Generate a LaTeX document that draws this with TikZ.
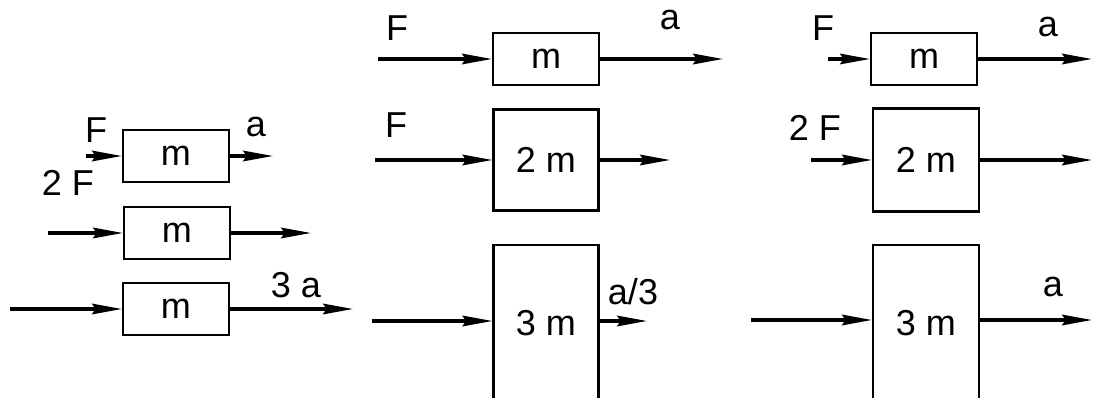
\documentclass[tikz,border=0pt]{standalone}
\usepackage{fontspec}
\setmainfont{Liberation Sans}
\usetikzlibrary{arrows.meta}
\tikzset{
  mass/.style={draw,line width=1.2pt,inner sep=0pt,
    font=\fontsize{20.5}{24}\selectfont},
  force/.style={line width=1.8pt,-{Stealth[length=17pt,width=6pt,inset=2pt]}},
  sym/.style={inner sep=0pt,font=\fontsize{20.5}{24}\selectfont},
}

\begin{document}
\begin{tikzpicture}[x=0.02cm,y=-0.02cm]
\clip (0,0) rectangle (1093,398);
% left column
\node[mass,minimum width=2.12cm,minimum height=1.04cm] (m1) at (176,156) {m};
\node[mass,minimum width=2.12cm,minimum height=1.04cm] (m2) at (177,233) {m};
\node[mass,minimum width=2.12cm,minimum height=1.04cm] (m3) at (176,309) {m};
\coordinate (f1) at (86,156);
\coordinate (a1) at (273,156);
\coordinate (f2) at (48,233);
\coordinate (a2) at (311,233);
\coordinate (f3) at (10,309);
\coordinate (a3) at (353,309);
\draw[force] (f1) -- (m1);
\draw[force] (m1) -- (a1);
\draw[force] (f2) -- (m2);
\draw[force] (m2) -- (a2);
\draw[force] (f3) -- (m3);
\draw[force] (m3) -- (a3);
\node[sym] (lf1) at (96,130) {F};
\node[sym] (la1) at (256,127) {a};
\node[sym] (lf2) at (68,183) {2 F};
\node[sym] (la3) at (296,285) {3 a};
% middle column
\node[mass,minimum width=2.12cm,minimum height=1.04cm] (n1) at (546,59) {m};
\node[mass,minimum width=2.1cm,minimum height=2.02cm] (n2) at (546,160) {2 m};
\node[mass,minimum width=2.1cm,minimum height=3.12cm] (n3) at (546,323) {3 m};
\coordinate (g1) at (378,59);
\coordinate (b1) at (723,59);
\coordinate (g2) at (375,160);
\coordinate (b2) at (670,160);
\coordinate (g3) at (372,321);
\coordinate (b3) at (647,321);
\draw[force] (g1) -- (n1);
\draw[force] (n1) -- (b1);
\draw[force] (g2) -- (n2.west);
\draw[force] (n2.east) -- (b2);
\draw[force] (g3) -- (g3 -| n3.west);
\draw[force] (b3 -| n3.east) -- (b3);
\node[sym] (lg1) at (397,28) {F};
\node[sym] (lb1) at (670,20) {a};
\node[sym] (lg2) at (396,125) {F};
\node[sym] (lb3) at (633,292) {a/3};
% right column
\node[mass,minimum width=2.12cm,minimum height=1.04cm] (p1) at (924,59) {m};
\node[mass,minimum width=2.12cm,minimum height=2.06cm] (p2) at (926,160) {2 m};
\node[mass,minimum width=2.12cm,minimum height=3.12cm] (p3) at (926,323) {3 m};
\coordinate (h1) at (828,59);
\coordinate (c1) at (1092,59);
\coordinate (h2) at (811,160);
\coordinate (c2) at (1092,160);
\coordinate (h3) at (751,320);
\coordinate (c3) at (1092,320);
\draw[force] (h1) -- (p1);
\draw[force] (p1) -- (c1);
\draw[force] (h2) -- (p2);
\draw[force] (p2) -- (c2);
\draw[force] (h3) -- (h3 -| p3.west);
\draw[force] (c3 -| p3.east) -- (c3);
\node[sym] (lh1) at (823,28) {F};
\node[sym] (lc1) at (1048,27) {a};
\node[sym] (lh2) at (815,128) {2 F};
\node[sym] (lc3) at (1053,287) {a};
\end{tikzpicture}
\end{document}
